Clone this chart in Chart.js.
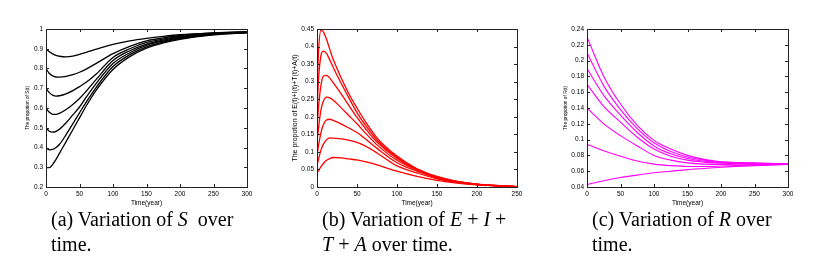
<!DOCTYPE html>
<html>
<head>
<meta charset="utf-8">
<script src="https://cdn.jsdelivr.net/npm/chart.js@4"></script>
<style>
  html, body { margin: 0; padding: 0; background: #fff; }
  body { width: 837px; height: 256px; position: relative; overflow: hidden; }
  canvas { position: absolute; top: 0; }
  .cap {
    position: absolute; top: 207px;
    font-family: "Liberation Serif", "Times New Roman", serif;
    font-size: 20px; line-height: 25px; color: #000; white-space: nowrap;
  }
</style>
</head>
<body>
<canvas id="chartS" width="275" height="215" style="left:0px"></canvas>
<canvas id="chartE" width="275" height="215" style="left:270px"></canvas>
<canvas id="chartR" width="292" height="215" style="left:545px"></canvas>

<div class="cap" style="left:51px">(a) Variation of <i>S</i>&nbsp; over<br>time.</div>
<div class="cap" style="left:322px">(b) Variation of <i>E</i> + <i>I</i> +<br><i>T</i> + <i>A</i> over time.</div>
<div class="cap" style="left:592px">(c) Variation of <i>R</i> over<br>time.</div>

<script>
// ===========================
// DATA
// ===========================

// (a) S(t)
const timeS = [0, 5, 10, 15, 20, 30, 40, 50, 60, 75, 100, 125, 150, 175, 200, 250, 300];
const s1 = [0.900, 0.885, 0.874, 0.866, 0.862, 0.859, 0.863, 0.872, 0.882, 0.898, 0.922, 0.940, 0.953, 0.963, 0.971, 0.980, 0.986];
const s2 = [0.800, 0.775, 0.763, 0.757, 0.756, 0.760, 0.769, 0.781, 0.797, 0.826, 0.875, 0.912, 0.940, 0.955, 0.967, 0.980, 0.985];
const s3 = [0.700, 0.678, 0.665, 0.660, 0.662, 0.672, 0.688, 0.708, 0.730, 0.772, 0.856, 0.900, 0.932, 0.949, 0.963, 0.978, 0.984];
const s4 = [0.600, 0.578, 0.568, 0.568, 0.573, 0.592, 0.618, 0.648, 0.685, 0.745, 0.840, 0.890, 0.924, 0.944, 0.959, 0.976, 0.984];
const s5 = [0.500, 0.482, 0.478, 0.482, 0.492, 0.525, 0.565, 0.605, 0.655, 0.725, 0.825, 0.880, 0.917, 0.939, 0.955, 0.974, 0.983];
const s6 = [0.400, 0.388, 0.390, 0.400, 0.415, 0.465, 0.520, 0.575, 0.630, 0.705, 0.810, 0.870, 0.910, 0.934, 0.951, 0.972, 0.982];
const s7 = [0.298, 0.298, 0.315, 0.340, 0.370, 0.430, 0.490, 0.550, 0.610, 0.690, 0.795, 0.860, 0.903, 0.930, 0.948, 0.970, 0.981];
const ticksSx = [0, 50, 100, 150, 200, 250, 300];
const ticksSy = [0.2, 0.3, 0.4, 0.5, 0.6, 0.7, 0.8, 0.9, 1];

// (b) E(t)+I(t)+T(t)+A(t)
const timeE = [0, 2, 5, 8, 12, 16, 20, 30, 40, 50, 60, 75, 100, 125, 150, 175, 200, 250];
const e1 = [0.270, 0.390, 0.446, 0.442, 0.420, 0.392, 0.365, 0.312, 0.265, 0.225, 0.188, 0.140, 0.088, 0.052, 0.030, 0.016, 0.008, 0.001];
const e2 = [0.220, 0.310, 0.375, 0.387, 0.380, 0.362, 0.342, 0.296, 0.253, 0.212, 0.178, 0.134, 0.085, 0.051, 0.029, 0.016, 0.008, 0.001];
const e3 = [0.170, 0.230, 0.290, 0.316, 0.318, 0.310, 0.298, 0.266, 0.232, 0.198, 0.168, 0.128, 0.081, 0.050, 0.028, 0.015, 0.0075, 0.001];
const e4 = [0.130, 0.170, 0.220, 0.245, 0.256, 0.254, 0.248, 0.226, 0.203, 0.180, 0.155, 0.120, 0.076, 0.048, 0.027, 0.015, 0.0075, 0.001];
const e5 = [0.090, 0.120, 0.155, 0.178, 0.191, 0.193, 0.190, 0.180, 0.168, 0.155, 0.138, 0.110, 0.069, 0.045, 0.025, 0.014, 0.007, 0.001];
const e6 = [0.060, 0.080, 0.105, 0.122, 0.135, 0.140, 0.139, 0.137, 0.133, 0.127, 0.117, 0.097, 0.060, 0.040, 0.023, 0.013, 0.0065, 0.001];
const e7 = [0.040, 0.047, 0.058, 0.067, 0.076, 0.081, 0.084, 0.083, 0.080, 0.077, 0.072, 0.063, 0.045, 0.030, 0.019, 0.011, 0.006, 0.001];
const ticksEx = [0, 50, 100, 150, 200, 250];
const ticksEy = [0, 0.05, 0.1, 0.15, 0.2, 0.25, 0.3, 0.35, 0.4, 0.45];

// (c) R(t)
const timeR = [0, 25, 50, 75, 100, 125, 150, 175, 200, 250, 300];
const r1 = [0.230, 0.180, 0.145, 0.118, 0.099, 0.088, 0.080, 0.075, 0.072, 0.0705, 0.0695];
const r2 = [0.210, 0.168, 0.138, 0.114, 0.096, 0.085, 0.078, 0.074, 0.0715, 0.070, 0.069];
const r3 = [0.190, 0.156, 0.131, 0.109, 0.092, 0.082, 0.076, 0.0725, 0.071, 0.0698, 0.069];
const r4 = [0.170, 0.142, 0.122, 0.103, 0.088, 0.079, 0.074, 0.0715, 0.070, 0.0695, 0.069];
const r5 = [0.140, 0.120, 0.105, 0.092, 0.080, 0.074, 0.0705, 0.069, 0.0685, 0.069, 0.069];
const r6 = [0.094, 0.086, 0.079, 0.073, 0.069, 0.067, 0.066, 0.066, 0.0665, 0.068, 0.069];
const r7 = [0.043, 0.048, 0.052, 0.055, 0.058, 0.060, 0.062, 0.0635, 0.065, 0.067, 0.0685];
const ticksRx = [0, 50, 100, 150, 200, 250, 300];
const ticksRy = [0.04, 0.06, 0.08, 0.1, 0.12, 0.14, 0.16, 0.18, 0.2, 0.22, 0.24];

// ===========================
// HELPERS
// ===========================
const sans = "'Liberation Sans', Arial, sans-serif";
const tickFont = { family: sans, size: 6.5 };

// box round the plot with inward ticks on all four sides (matlab look)
const framePlugin = {
  id: 'frame',
  afterDraw(chart) {
    const { ctx, chartArea: a, scales } = chart;
    const len = 3;
    ctx.save();
    ctx.strokeStyle = '#222';
    ctx.lineWidth = 1;
    ctx.strokeRect(a.left + 0.5, a.top + 0.5, a.width, a.height);
    ctx.beginPath();
    scales.x.ticks.forEach(t => {
      const px = Math.round(scales.x.getPixelForValue(t.value)) + 0.5;
      ctx.moveTo(px, a.bottom); ctx.lineTo(px, a.bottom - len);
      ctx.moveTo(px, a.top); ctx.lineTo(px, a.top + len);
    });
    scales.y.ticks.forEach(t => {
      const py = Math.round(scales.y.getPixelForValue(t.value)) + 0.5;
      ctx.moveTo(a.left, py); ctx.lineTo(a.left + len, py);
      ctx.moveTo(a.right, py); ctx.lineTo(a.right - len, py);
    });
    ctx.stroke();
    ctx.restore();
  }
};

function makeChart(id, opt) {
  const datasets = opt.series.map(vals => ({
    data: opt.time.map((t, i) => ({ x: t, y: vals[i] })),
    borderColor: opt.color,
    borderWidth: opt.lineWidth,
    pointRadius: 0,
    fill: false,
    cubicInterpolationMode: 'monotone'
  }));

  return new Chart(document.getElementById(id), {
    type: 'line',
    data: { datasets },
    options: {
      responsive: false,
      animation: false,
      devicePixelRatio: 1,
      layout: { padding: { top: 29, right: opt.padRight, bottom: 0, left: 0 } },
      plugins: { legend: { display: false }, tooltip: { enabled: false } },
      scales: {
        x: {
          type: 'linear',
          min: opt.xTicks[0], max: opt.xTicks[opt.xTicks.length - 1],
          afterBuildTicks: s => { s.ticks = opt.xTicks.map(v => ({ value: v })); },
          afterFit: s => { s.height = 28; },
          grid: { display: false, drawTicks: false, tickLength: 0 },
          border: { display: false },
          ticks: { font: tickFont, color: '#000', padding: 3, maxRotation: 0, autoSkip: false,
                   callback: v => String(v) },
          title: { display: true, text: 'Time(year)', color: '#000', font: tickFont,
                   padding: { top: 0, bottom: 8 } }
        },
        y: {
          type: 'linear',
          min: opt.yTicks[0], max: opt.yTicks[opt.yTicks.length - 1],
          afterBuildTicks: s => { s.ticks = opt.yTicks.map(v => ({ value: v })); },
          afterFit: s => { s.width = opt.axisWidth; },
          grid: { display: false, drawTicks: false, tickLength: 0 },
          border: { display: false },
          ticks: { font: tickFont, color: '#000', padding: 3, autoSkip: false,
                   callback: v => String(+v.toFixed(3)) },
          title: { display: true, text: opt.yTitle, color: '#000',
                   font: { family: sans, size: opt.titleSize },
                   padding: { top: opt.titlePad, bottom: 0 } }
        }
      }
    },
    plugins: [framePlugin]
  });
}

// ===========================
// DRAW THE THREE PANELS
// ===========================
makeChart('chartS', {
  time: timeS, series: [s1, s2, s3, s4, s5, s6, s7],
  color: '#000000', lineWidth: 1.3,
  xTicks: ticksSx, yTicks: ticksSy,
  yTitle: 'The propotion of S(t)', titleSize: 4.8,
  axisWidth: 46, padRight: 28, titlePad: 25
});

makeChart('chartE', {
  time: timeE, series: [e1, e2, e3, e4, e5, e6, e7],
  color: '#ff0000', lineWidth: 1.3,
  xTicks: ticksEx, yTicks: ticksEy,
  yTitle: 'The propotion of E(t)+I(t)+T(t)+A(t)', titleSize: 7,
  axisWidth: 47, padRight: 28, titlePad: 21
});

makeChart('chartR', {
  time: timeR, series: [r1, r2, r3, r4, r5, r6, r7],
  color: '#ff00ff', lineWidth: 1.1,
  xTicks: ticksRx, yTicks: ticksRy,
  yTitle: 'The propotion of R(t)', titleSize: 4.8,
  axisWidth: 42, padRight: 49, titlePad: 18
});
</script>
</body>
</html>
